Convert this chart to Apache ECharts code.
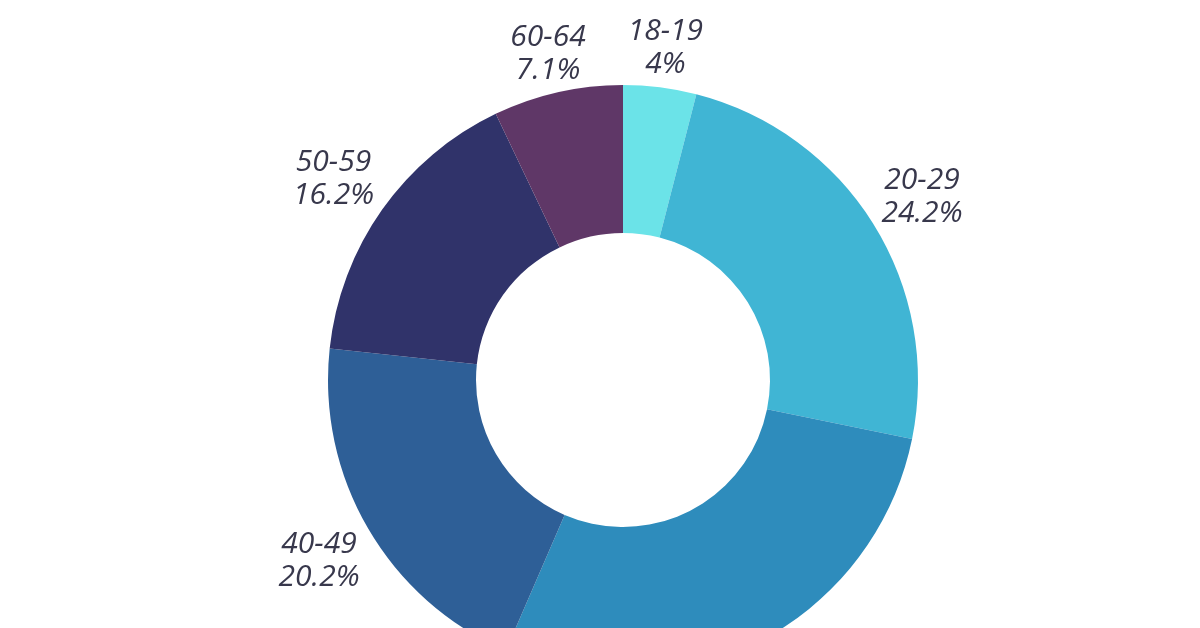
<!DOCTYPE html>
<html>
<head>
<meta charset="utf-8">
<script src="https://cdn.jsdelivr.net/npm/echarts@6/dist/echarts.min.js"></script>
<style>html,body{margin:0;padding:0;background:#fff}#c{width:1200px;height:628px}</style>
</head>
<body>
<div id="c"></div>
<script>
const categories = ['18-19', '20-29', '30-39', '40-49', '50-59', '60-64'];
const values = [4, 24.2, 28.3, 20.2, 16.2, 7.1];
const colors = ['#6be3e8', '#40b5d4', '#2e8cbc', '#2e5f97', '#30336a', '#5f3767'];

const CX = 623, CY = 380, R_IN = 147, R_OUT = 295, GAP = 10, SHIFT_Y = 4;

const data = categories.map((c, i) => ({ name: c, value: values[i], itemStyle: { color: colors[i] } }));
const labelData = categories.map((c, i) => ({ name: c, value: values[i] }));

const chart = echarts.init(document.getElementById('c'));
chart.setOption({
  backgroundColor: '#ffffff',
  animation: false,
  series: [
    {
      type: 'pie',
      center: [CX, CY],
      radius: [R_IN, R_OUT],
      startAngle: 90,
      clockwise: true,
      label: { show: false },
      labelLine: { show: false },
      itemStyle: { borderWidth: 0 },
      emphasis: { disabled: true },
      data: data
    },
    {
      type: 'pie',
      center: [CX, CY],
      radius: [330, 380],
      startAngle: 90,
      clockwise: true,
      silent: true,
      itemStyle: { color: 'rgba(0,0,0,0)' },
      label: {
        show: true,
        position: 'inside',
        rotate: 0,
        formatter: p => p.name + '\n' + p.value + '%',
        fontFamily: 'Open Sans',
        fontStyle: 'italic',
        fontSize: 30,
        lineHeight: 33,
        color: '#38384c',
        align: 'center'
      },
      labelLayout: function (p) {
        const r = p.labelRect;
        const lx = r.x + r.width / 2, ly = r.y + r.height / 2;
        const dx = lx - CX, dy = ly - CY;
        const d = Math.sqrt(dx * dx + dy * dy);
        const s = Math.abs(dx / d), c = Math.abs(dy / d);
        const hw = r.width / 2, hh = r.height / 2;
        const ext = Math.min(s > 1e-6 ? hw / s : 1e9, c > 1e-6 ? hh / c : 1e9);
        const rn = R_OUT + GAP + ext;
        return { x: CX + dx / d * rn, y: CY + dy / d * rn + SHIFT_Y, align: 'center', verticalAlign: 'middle' };
      },
      labelLine: { show: false },
      emphasis: { disabled: true },
      data: labelData
    }
  ]
});
</script>
</body>
</html>
